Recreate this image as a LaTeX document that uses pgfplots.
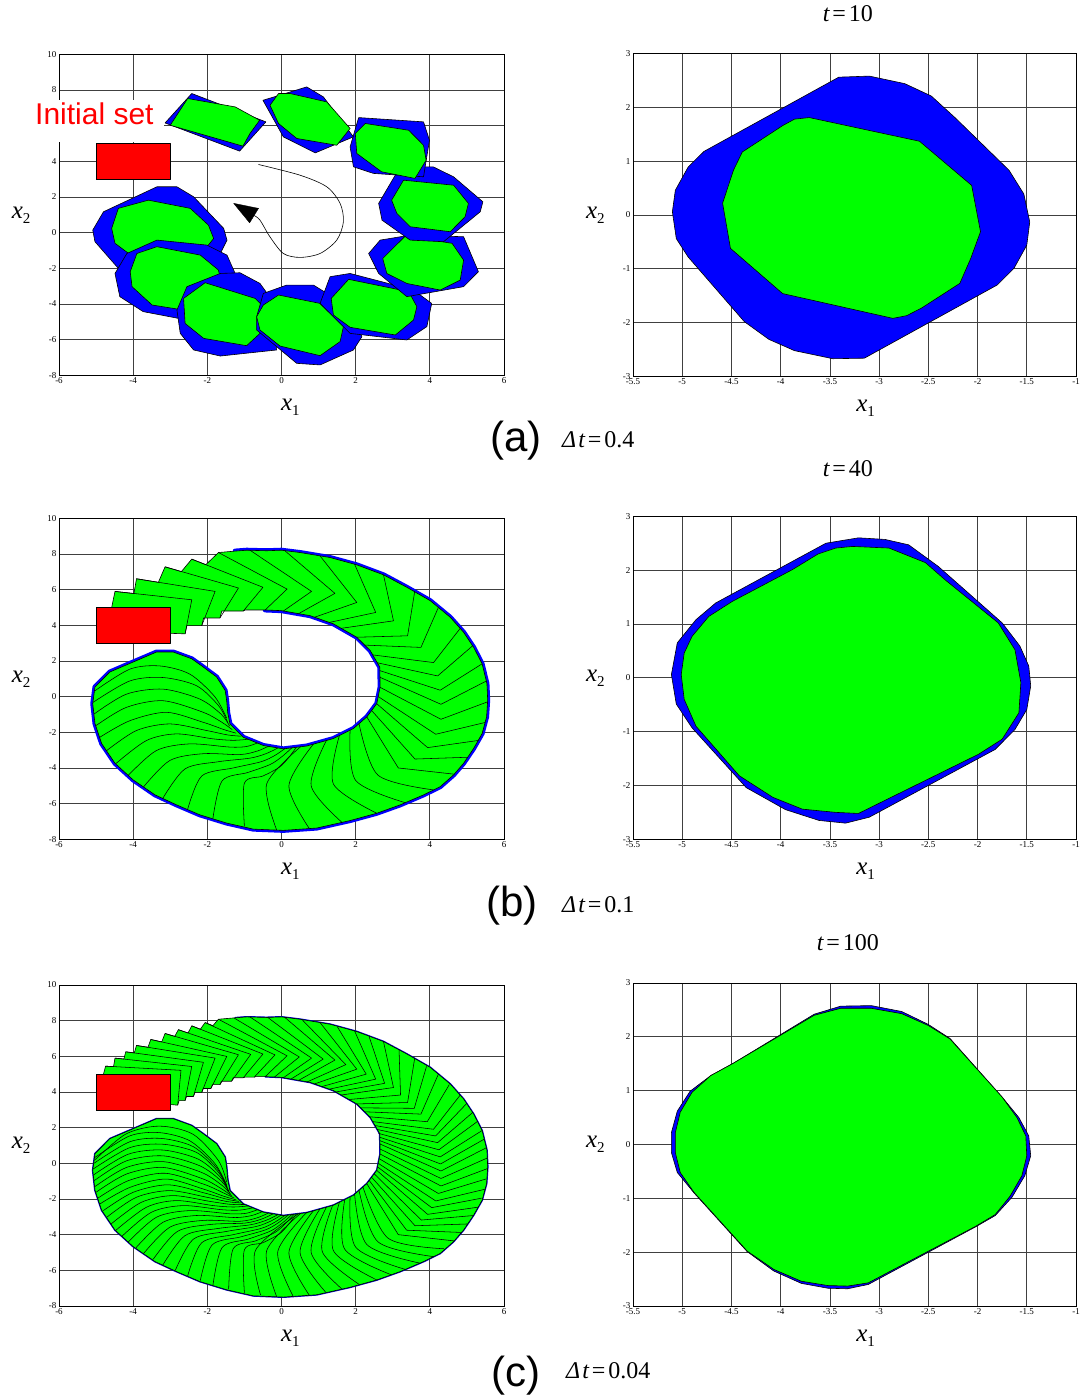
\documentclass[border=0pt]{standalone}
\usepackage{fontspec}
\setmainfont{Liberation Serif}
\newfontfamily\arial{Liberation Sans}
\usepackage{pgfplots}
\pgfplotsset{compat=1.18}
\newcommand{\lab}[2]{{\fontsize{25}{25}\selectfont\itshape #1}\raisebox{-5pt}{\fontsize{15}{15}\selectfont #2}}
\newcommand{\ttl}[1]{\fontsize{24}{24}\selectfont{\itshape t}\kern3pt=\kern3pt#1}
\newcommand{\dt}[1]{\fontsize{24}{24}\selectfont{\itshape Δ\kern2pt t}\kern3pt=\kern3pt#1}
\pgfplotsset{
  base/.style={scale only axis, anchor=south west, grid=major,
    major grid style={black!75, line width=0.7pt},
    axis line style={line width=0.8pt}, major tick length=0pt,
    /pgf/number format/assume math mode=true,
    ticklabel style={font=\fontsize{9}{9}\selectfont},
    xticklabel style={yshift=1pt}, yticklabel style={xshift=1pt},
    xlabel={\lab{x}{1}}, ylabel={\lab{x}{2}},
    xlabel style={at={(axis description cs:0.52,0)}, anchor=base, yshift=-35pt},
    ylabel style={rotate=-90, at={(axis description cs:-0.085,0.5)}, anchor=center}},
  leftax/.style={base, width=445pt, height=321pt, xmin=-6, xmax=6, ymin=-8, ymax=10,
    xtick={-6,-4,-2,0,2,4,6}, ytick={-8,-6,-4,-2,0,2,4,6,8,10}},
  rightax/.style={base, width=443pt, height=323pt, xmin=-5.5, xmax=-1, ymin=-3, ymax=3,
    xtick={-5.5,-5,-4.5,-4,-3.5,-3,-2.5,-2,-1.5,-1}, ytick={-3,-2,-1,0,1,2,3},
    xlabel style={at={(axis description cs:0.525,0)}},
    title style={at={(axis description cs:0.485,1)}, anchor=base}},
  poly/.style={draw=black, line width=0.6pt, line join=round, no markers},
  bl/.style={poly, fill=blue},
  gr/.style={poly, fill=green},
  ch/.style={black, line width=0.55pt, line join=round, no markers},
  chs/.style={ch, smooth},
}
\begin{document}
\begin{tikzpicture}
\useasboundingbox (0,0) rectangle (1086pt,1400pt);

%================ (a) left
\begin{axis}[leftax, at={(59pt,1024.7pt)}]
% set 10
\addplot[bl] coordinates {(-3.36,2.57) (-2.82,2.57) (-2.37,2.01) (-1.56,0.24) (-1.47,-0.42) (-1.65,-1.17) (-2.19,-1.35) (-3.45,-1.6) (-4.36,-2.10) (-5.03,-0.51) (-5.09,0.14) (-4.80,1.17) (-3.36,2.57)};
\addplot[gr] coordinates {(-3.59,1.82) (-2.46,1.36) (-1.97,0.42) (-1.83,-0.33) (-2.19,-1.26) (-3.0,-1.3) (-3.94,-1.45) (-4.49,-0.60) (-4.58,0.24) (-4.40,1.36) (-3.59,1.82)};
% set 9
\addplot[bl] coordinates {(-2.01,-0.70) (-1.47,-1.26) (-1.25,-2.29) (-1.29,-3.59) (-2.55,-4.90) (-3.73,-4.43) (-4.36,-3.59) (-4.49,-2.29) (-4.17,-1.17) (-3.36,-0.42) (-2.01,-0.70)};
\addplot[gr] coordinates {(-3.36,-0.79) (-2.19,-1.26) (-1.70,-2.10) (-1.61,-3.03) (-2.01,-4.06) (-2.64,-4.34) (-3.49,-4.06) (-4.03,-3.03) (-4.08,-2.19) (-3.90,-1.17) (-3.36,-0.79)};
% set 8
\addplot[bl] coordinates {(-1.65,-2.29) (-1.12,-2.25) (-0.58,-2.85) (-0.13,-4.15) (-0.13,-6.58) (-1.65,-6.92) (-2.37,-6.58) (-2.73,-5.65) (-2.82,-4.34) (-2.55,-3.03) (-1.65,-2.29)};
\addplot[gr] coordinates {(-2.06,-2.81) (-0.71,-3.69) (-0.49,-4.15) (-0.58,-5.65) (-0.94,-6.34) (-2.10,-5.93) (-2.60,-5.09) (-2.64,-3.69) (-2.06,-2.81)};
% set 7
\addplot[bl] coordinates {(-0.49,-3.41) (0.14,-2.94) (0.86,-2.94) (1.67,-3.97) (2.17,-5.83) (1.94,-6.58) (1.04,-7.42) (0.41,-7.33) (-0.67,-5.46) (-0.67,-4.71) (-0.49,-3.41)};
\addplot[gr] coordinates {(-0.08,-3.50) (1.04,-3.97) (1.67,-5.27) (1.58,-6.11) (1.04,-6.90) (-0.04,-6.36) (-0.58,-5.46) (-0.67,-4.71) (-0.49,-4.06) (-0.08,-3.50)};
% set 6
\addplot[bl] coordinates {(1.31,-2.47) (1.85,-2.29) (3.56,-3.22) (4.05,-3.97) (3.92,-5.27) (3.38,-6.02) (1.85,-5.65) (1.04,-3.97) (1.31,-2.47)};
\addplot[gr] coordinates {(1.81,-2.62) (3.43,-3.31) (3.65,-4.15) (3.56,-4.90) (3.07,-5.74) (1.85,-5.31) (1.40,-4.62) (1.34,-3.69) (1.81,-2.62)};
% set 5
\addplot[bl] coordinates {(2.66,-0.42) (3.47,-0.14) (4.91,-0.23) (5.31,-2.19) (4.91,-3.03) (3.38,-3.59) (2.62,-2.29) (2.35,-1.17) (2.66,-0.42)};
\addplot[gr] coordinates {(3.34,-0.19) (4.60,-0.60) (4.91,-1.54) (4.82,-2.66) (4.28,-3.22) (3.38,-2.85) (2.84,-2.29) (2.73,-1.45) (3.34,-0.19)};
% set 4
\addplot[bl] coordinates {(3.20,3.69) (4.09,3.69) (4.64,3.13) (5.43,1.73) (5.36,1.17) (4.37,-0.51) (3.47,-0.42) (2.71,0.70) (2.62,1.64) (3.20,3.69)};
\addplot[gr] coordinates {(3.29,2.94) (4.64,2.66) (5.04,1.64) (4.95,0.89) (4.55,0.05) (3.47,0.33) (3.11,1.08) (2.97,1.82) (3.29,2.94)};
% set 3
\addplot[bl] coordinates {(2.08,6.45) (3.83,6.21) (3.99,5.18) (3.83,3.13) (2.48,3.32) (1.94,3.69) (1.85,4.81) (2.08,6.45)};
\addplot[gr] coordinates {(2.26,6.12) (3.43,5.74) (3.83,4.90) (3.90,4.06) (3.60,3.04) (2.70,3.41) (2.03,4.44) (1.99,5.56) (2.26,6.12)};
% set 2
\addplot[bl] coordinates {(-0.50,7.42) (0.68,8.17) (1.13,7.61) (1.94,5.37) (0.91,4.47) (0.05,5.37) (-0.50,7.42)};
\addplot[gr] coordinates {(-0.08,7.80) (0.23,7.80) (1.22,7.33) (1.85,5.84) (1.49,4.90) (0.41,5.28) (-0.08,6.12) (-0.31,7.14) (-0.08,7.80)};
% set 1
\addplot[bl] coordinates {(-2.42,7.80) (-0.42,6.21) (-1.13,4.57) (-3.14,6.15) (-2.42,7.80)};
\addplot[gr] coordinates {(-2.53,7.52) (-1.25,7.05) (-0.59,6.30) (-0.85,5.56) (-1.04,4.85) (-3.0,6.02) (-2.53,7.52)};
% initial set
\addplot[poly, fill=red] coordinates {(-5,3) (-3,3) (-3,5) (-5,5) (-5,3)};
% arrow
\addplot[ch, smooth, line width=0.6pt] coordinates {(-0.62,3.82) (0.50,3.22) (1.22,2.57) (1.58,1.64) (1.67,0.61) (1.49,-0.42) (1.04,-1.17) (0.50,-1.39) (0.05,-1.17) (-0.31,-0.24) (-0.58,0.70) (-0.74,0.96)};
\addplot[fill=black, draw=black, no markers] coordinates {(-1.29,1.64) (-0.62,1.36) (-0.86,0.55) (-1.29,1.64)};
\end{axis}
\fill[white] (33pt,1258pt) rectangle (164pt,1300pt);
\node[anchor=base west, text=red, font=\arial\fontsize{30}{30}\selectfont, inner sep=0pt] at (35pt,1275pt) {Initial set};

%================ (a) right
\begin{axis}[rightax, at={(633pt,1023.5pt)}, title={\ttl{10}}, title style={yshift=26pt}]
\addplot[bl] coordinates {(-3.41,2.56) (-3.10,2.58) (-2.74,2.44) (-2.47,2.21) (-2.23,1.81) (-1.68,0.83) (-1.53,0.39) (-1.47,-0.13) (-1.50,-0.56) (-1.63,-0.99) (-1.80,-1.30) (-3.15,-2.66) (-3.47,-2.67) (-3.86,-2.52) (-4.12,-2.31) (-4.37,-1.98) (-4.94,-0.78) (-5.06,-0.44) (-5.10,0.06) (-5.07,0.46) (-4.94,0.89) (-4.78,1.18) (-3.41,2.56)};
\addplot[gr] coordinates {(-3.71,1.81) (-2.59,1.37) (-2.06,0.55) (-1.97,-0.31) (-2.07,-0.81) (-2.18,-1.27) (-2.57,-1.73) (-2.72,-1.87) (-2.86,-1.92) (-3.98,-1.46) (-4.51,-0.62) (-4.59,0.22) (-4.48,0.83) (-4.39,1.17) (-3.98,1.66) (-3.86,1.78) (-3.71,1.81)};
\end{axis}
\node[anchor=base, font=\arial\fontsize{42}{42}\selectfont, inner sep=0pt] at (516pt,948.3pt) {(a)};
\node[anchor=base west, inner sep=0pt] at (562pt,952.7pt) {\dt{0.4}};

%================ (b) left
\begin{axis}[leftax, at={(59pt,560.7pt)}]
\addplot[blue, line width=5pt, line join=round, line cap=round, no markers] coordinates {(-1.25,8.16) (-0.94,8.21) (-0.40,8.18) (0,8.21) (0.50,8.08) (1.31,7.80) (2.03,7.39) (2.75,6.83) (3.38,6.13) (4.01,5.38) (4.55,4.45) (4.91,3.61) (5.18,2.77) (5.41,1.84) (5.54,0.73) (5.56,-0.20) (5.53,-1.14) (5.41,-2.07) (5.18,-2.91) (4.91,-3.74) (4.64,-4.39) (4.28,-5.05) (3.83,-5.51) (3.20,-6.07) (2.57,-6.54) (1.85,-6.95) (0.95,-7.37) (0.05,-7.50) (-0.76,-7.43) (-1.48,-7.09) (-2.20,-6.63) (-2.83,-6.07) (-3.41,-5.51) (-4.00,-4.67) (-4.49,-3.74) (-4.85,-2.63) (-5.03,-1.51) (-5.09,-0.39) (-5.03,0.54) (-4.63,1.38) (-4.00,1.94) (-3.37,2.50) (-2.92,2.50) (-2.42,2.12) (-2.11,1.66) (-1.75,1.10) (-1.52,0.35) (-1.48,-0.20) (-1.45,-0.90) (-1.39,-1.53) (-1.03,-2.28) (-0.49,-2.74) (0.05,-2.93) (0.68,-2.77) (1.40,-2.35) (1.94,-1.79) (2.30,-1.14) (2.57,-0.39) (2.66,0.54) (2.65,1.66) (2.39,2.59) (2.03,3.33) (1.40,4.08) (0.77,4.54) (0,4.82) (-0.44,4.86)};
\addplot[gr] coordinates {(-4.58,5.0) (-4.49,5.90) (-3.98,5.78) (-3.91,6.61) (-3.32,6.41) (-3.14,7.28) (-2.70,7.01) (-2.42,7.71) (-2.04,7.40) (-1.70,8.08) (-1.25,8.16) (-0.94,8.21) (-0.40,8.18) (0,8.21) (0.50,8.08) (1.31,7.80) (2.03,7.39) (2.75,6.83) (3.38,6.13) (4.01,5.38) (4.55,4.45) (4.91,3.61) (5.18,2.77) (5.41,1.84) (5.54,0.73) (5.56,-0.20) (5.53,-1.14) (5.41,-2.07) (5.18,-2.91) (4.91,-3.74) (4.64,-4.39) (4.28,-5.05) (3.83,-5.51) (3.20,-6.07) (2.57,-6.54) (1.85,-6.95) (0.95,-7.37) (0.05,-7.50) (-0.76,-7.43) (-1.48,-7.09) (-2.20,-6.63) (-2.83,-6.07) (-3.41,-5.51) (-4.00,-4.67) (-4.49,-3.74) (-4.85,-2.63) (-5.03,-1.51) (-5.09,-0.39) (-5.03,0.54) (-4.63,1.38) (-4.00,1.94) (-3.37,2.50) (-2.92,2.50) (-2.42,2.12) (-2.11,1.66) (-1.75,1.10) (-1.52,0.35) (-1.48,-0.20) (-1.45,-0.90) (-1.39,-1.53) (-1.03,-2.28) (-0.49,-2.74) (0.05,-2.93) (0.68,-2.77) (1.40,-2.35) (1.94,-1.79) (2.30,-1.14) (2.57,-0.39) (2.66,0.54) (2.65,1.66) (2.39,2.59) (2.03,3.33) (1.40,4.08) (0.77,4.54) (0,4.82) (-0.44,4.86) (-0.98,4.86) (-1.03,4.80) (-1.61,4.80) (-1.66,4.41) (-2.10,4.41) (-2.15,3.98) (-2.55,3.98) (-2.60,3.52) (-3.0,3.55) (-3.5,4.0) (-4.58,5.0)};
\addplot[ch] coordinates {(-4.49,5.90) (-2.42,5.43) (-2.60,3.52)};
\addplot[ch] coordinates {(-3.91,6.61) (-1.79,5.90) (-2.15,3.98)};
\addplot[ch] coordinates {(-3.14,7.28) (-1.16,6.09) (-1.66,4.41)};
\addplot[ch] coordinates {(-2.42,7.71) (-0.50,6.13) (-1.03,4.80)};
\addplot[ch] coordinates {(-1.70,8.08) (0.15,6.03) (-0.44,4.86)};
\addplot[ch] coordinates {(-0.85,8.21) (0.81,5.90) (0.05,4.80)};
\addplot[ch] coordinates {(0.08,8.20) (1.44,5.79) (0.46,4.65)};
\addplot[ch] coordinates {(1.04,7.89) (2.03,5.28) (0.89,4.45)};
\addplot[ch] coordinates {(1.97,7.43) (2.54,4.72) (1.29,4.16)};
\addplot[ch] coordinates {(2.75,6.83) (3.02,4.25) (1.61,3.83)};
\addplot[ch] coordinates {(3.59,5.87) (3.40,3.41) (2.03,3.33)};
\addplot[ch] coordinates {(4.23,5.00) (3.76,2.76) (2.24,2.89)};
\addplot[ch] coordinates {(4.82,3.83) (4.10,1.91) (2.46,2.34)};
\addplot[ch] coordinates {(5.16,2.86) (4.21,1.16) (2.58,1.90)};
\addplot[ch] coordinates {(5.41,1.84) (4.28,0.36) (2.65,1.46)};
\addplot[ch] coordinates {(5.52,0.87) (4.30,-0.43) (2.66,1.08)};
\addplot[ch] coordinates {(5.56,-0.29) (4.30,-1.27) (2.66,0.52)};
\addplot[ch] coordinates {(5.49,-1.45) (4.16,-2.11) (2.61,0.00)};
\addplot[ch] coordinates {(5.30,-2.46) (3.94,-2.86) (2.57,-0.40)};
\addplot[ch] coordinates {(5.02,-3.40) (3.60,-3.50) (2.43,-0.78)};
\addplot[ch] coordinates {(4.66,-4.35) (3.15,-4.00) (2.30,-1.14)};
\addplot[chs] coordinates {(4.10,-5.23) (2.60,-4.40) (2.09,-1.51)};
\addplot[chs] coordinates {(3.34,-5.95) (2.00,-4.70) (1.85,-1.88)};
\addplot[chs] coordinates {(2.57,-6.54) (1.40,-4.90) (1.56,-2.19)};
\addplot[chs] coordinates {(1.63,-7.05) (0.80,-5.00) (1.21,-2.46)};
\addplot[chs] coordinates {(0.75,-7.40) (0.20,-5.00) (0.86,-2.66)};
\addplot[chs] coordinates {(-0.13,-7.48) (-0.40,-4.90) (0.52,-2.80)};
\addplot[chs] coordinates {(-1.0,-7.28) (-1.00,-4.85) (-0.50,-4.45) (-0.05,-3.95) (0.20,-3.40) (0.40,-2.84)};
\addplot[chs] coordinates {(-1.85,-6.84) (-1.60,-4.72) (-0.90,-4.25) (-0.30,-3.80) (0.02,-3.35) (0.28,-2.87)};
\addplot[chs] coordinates {(-2.53,-6.31) (-2.15,-4.45) (-1.30,-4.00) (-0.55,-3.65) (-0.18,-3.30) (0.10,-2.90)};
\addplot[chs] coordinates {(-3.20,-5.70) (-2.60,-4.05) (-1.70,-3.65) (-0.85,-3.45) (-0.42,-3.20) (-0.10,-2.88)};
\addplot[chs] coordinates {(-3.72,-5.06) (-3.01,-3.58) (-2.11,-3.20) (-1.12,-3.25) (-0.65,-3.05) (-0.35,-2.78)};
\addplot[chs] coordinates {(-4.13,-4.41) (-3.37,-3.02) (-2.47,-2.65) (-1.39,-2.83) (-0.95,-2.80) (-0.65,-2.60)};
\addplot[chs] coordinates {(-4.47,-3.76) (-3.64,-2.46) (-2.83,-2.09) (-1.84,-2.37) (-1.30,-2.45) (-0.90,-2.39)};
\addplot[chs] coordinates {(-4.71,-3.02) (-3.91,-1.90) (-3.01,-1.53) (-2.02,-1.90) (-1.45,-2.15) (-1.08,-2.22)};
\addplot[chs] coordinates {(-4.90,-2.28) (-4.09,-1.35) (-3.10,-0.88) (-2.11,-1.44) (-1.55,-1.85) (-1.22,-2.05)};
\addplot[chs] coordinates {(-5.0,-1.62) (-4.18,-0.60) (-3.19,-0.23) (-2.11,-0.88) (-1.60,-1.45) (-1.33,-1.85)};
\addplot[chs] coordinates {(-5.05,-0.97) (-4.18,0.14) (-3.19,0.42) (-2.20,-0.14) (-1.62,-1.00) (-1.40,-1.65)};
\addplot[chs] coordinates {(-5.08,-0.32) (-4.09,0.88) (-3.19,1.07) (-2.29,0.61) (-1.70,-0.50) (-1.45,-1.45)};
\addplot[chs] coordinates {(-5.03,0.33) (-4.09,1.54) (-3.28,1.72) (-2.47,1.26) (-1.80,0.00) (-1.48,-1.20)};
\addplot[poly, fill=red] coordinates {(-5,3) (-3,3) (-3,5) (-5,5) (-5,3)};
\end{axis}

%================ (b) right
\begin{axis}[rightax, at={(633pt,560.7pt)}, title={\ttl{40}}, title style={yshift=34pt}]
\addplot[bl] coordinates {(-3.54,2.50) (-3.21,2.60) (-2.94,2.57) (-2.70,2.47) (-2.40,2.07) (-1.75,1.02) (-1.57,0.59) (-1.48,0.22) (-1.46,-0.15) (-1.50,-0.59) (-1.62,-0.96) (-1.82,-1.33) (-3.10,-2.59) (-3.34,-2.70) (-3.61,-2.65) (-3.95,-2.45) (-4.35,-2.04) (-4.90,-0.93) (-5.06,-0.49) (-5.11,0.06) (-5.05,0.65) (-4.86,1.08) (-4.66,1.39) (-3.54,2.50)};
\addplot[gr] coordinates {(-3.44,2.41) (-3.27,2.44) (-2.90,2.41) (-2.53,2.14) (-2.33,1.82) (-1.79,1.02) (-1.62,0.52) (-1.56,-0.09) (-1.58,-0.65) (-1.75,-1.14) (-1.99,-1.42) (-3.21,-2.52) (-3.44,-2.50) (-3.78,-2.44) (-4.08,-2.22) (-4.42,-1.82) (-4.86,-0.90) (-4.98,-0.40) (-5.01,0.06) (-4.98,0.46) (-4.90,0.77) (-4.73,1.14) (-4.49,1.42) (-3.88,2.01) (-3.62,2.30) (-3.44,2.41)};
\end{axis}
\node[anchor=base, font=\arial\fontsize{42}{42}\selectfont, inner sep=0pt] at (512pt,483.3pt) {(b)};
\node[anchor=base west, inner sep=0pt] at (562pt,487.3pt) {\dt{0.1}};

%================ (c) left
\begin{axis}[leftax, at={(59pt,94pt)}]
\addplot[blue!80!black, line width=1.8pt, line join=round, line cap=round, no markers] coordinates {(-1.25,8.16) (-0.94,8.21) (-0.40,8.18) (0,8.21) (0.50,8.08) (1.31,7.80) (2.03,7.39) (2.75,6.83) (3.38,6.13) (4.01,5.38) (4.55,4.45) (4.91,3.61) (5.18,2.77) (5.41,1.84) (5.54,0.73) (5.56,-0.20) (5.53,-1.14) (5.41,-2.07) (5.18,-2.91) (4.91,-3.74) (4.64,-4.39) (4.28,-5.05) (3.83,-5.51) (3.20,-6.07) (2.57,-6.54) (1.85,-6.95) (0.95,-7.37) (0.05,-7.50) (-0.76,-7.43) (-1.48,-7.09) (-2.20,-6.63) (-2.83,-6.07) (-3.41,-5.51) (-4.00,-4.67) (-4.49,-3.74) (-4.85,-2.63) (-5.03,-1.51) (-5.09,-0.39) (-5.03,0.54) (-4.63,1.38) (-4.00,1.94) (-3.37,2.50) (-2.92,2.50) (-2.42,2.12) (-2.11,1.66) (-1.75,1.10) (-1.52,0.35) (-1.48,-0.20) (-1.45,-0.90) (-1.39,-1.53) (-1.03,-2.28) (-0.49,-2.74) (0.05,-2.93) (0.68,-2.77) (1.40,-2.35) (1.94,-1.79) (2.30,-1.14) (2.57,-0.39) (2.66,0.54) (2.65,1.66) (2.39,2.59) (2.03,3.33) (1.40,4.08) (0.77,4.54) (0,4.82) (-0.44,4.86)};
\addplot[gr] coordinates {(-4.80,5.0) (-4.745,5.45) (-4.53,5.42) (-4.49,5.90) (-4.25,5.85) (-4.20,6.255) (-3.97,6.19) (-3.91,6.61) (-3.60,6.51) (-3.525,6.945) (-3.23,6.81) (-3.14,7.28) (-2.88,7.12) (-2.78,7.495) (-2.52,7.31) (-2.42,7.71) (-2.19,7.52) (-2.06,7.895) (-1.85,7.72) (-1.70,8.08) (-1.25,8.16) (-0.94,8.21) (-0.40,8.18) (0,8.21) (0.50,8.08) (1.31,7.80) (2.03,7.39) (2.75,6.83) (3.38,6.13) (4.01,5.38) (4.55,4.45) (4.91,3.61) (5.18,2.77) (5.41,1.84) (5.54,0.73) (5.56,-0.20) (5.53,-1.14) (5.41,-2.07) (5.18,-2.91) (4.91,-3.74) (4.64,-4.39) (4.28,-5.05) (3.83,-5.51) (3.20,-6.07) (2.57,-6.54) (1.85,-6.95) (0.95,-7.37) (0.05,-7.50) (-0.76,-7.43) (-1.48,-7.09) (-2.20,-6.63) (-2.83,-6.07) (-3.41,-5.51) (-4.00,-4.67) (-4.49,-3.74) (-4.85,-2.63) (-5.03,-1.51) (-5.09,-0.39) (-5.03,0.54) (-4.63,1.38) (-4.00,1.94) (-3.37,2.50) (-2.92,2.50) (-2.42,2.12) (-2.11,1.66) (-1.75,1.10) (-1.52,0.35) (-1.48,-0.20) (-1.45,-0.90) (-1.39,-1.53) (-1.03,-2.28) (-0.49,-2.74) (0.05,-2.93) (0.68,-2.77) (1.40,-2.35) (1.94,-1.79) (2.30,-1.14) (2.57,-0.39) (2.66,0.54) (2.65,1.66) (2.39,2.59) (2.03,3.33) (1.40,4.08) (0.77,4.54) (0,4.82) (-0.44,4.86) (-0.70,4.86) (-0.735,4.83) (-0.99,4.83) (-1.03,4.80) (-1.30,4.80) (-1.345,4.605) (-1.62,4.605) (-1.66,4.41) (-1.86,4.41) (-1.905,4.195) (-2.11,4.195) (-2.15,3.98) (-2.33,3.98) (-2.375,3.75) (-2.56,3.75) (-2.60,3.52) (-2.76,3.52) (-2.80,3.26) (-3.0,3.30) (-3.5,4.0) (-4.80,5.0)};
\addplot[ch] coordinates {(-4.745,5.45) (-2.71,5.215) (-2.80,3.26)};
\addplot[ch] coordinates {(-4.49,5.90) (-2.42,5.43) (-2.60,3.52)};
\addplot[ch] coordinates {(-4.20,6.255) (-2.105,5.665) (-2.375,3.75)};
\addplot[ch] coordinates {(-3.91,6.61) (-1.79,5.90) (-2.15,3.98)};
\addplot[ch] coordinates {(-3.525,6.945) (-1.475,5.995) (-1.905,4.195)};
\addplot[ch] coordinates {(-3.14,7.28) (-1.16,6.09) (-1.66,4.41)};
\addplot[ch] coordinates {(-2.78,7.495) (-0.83,6.11) (-1.345,4.605)};
\addplot[ch] coordinates {(-2.42,7.71) (-0.50,6.13) (-1.03,4.80)};
\addplot[ch] coordinates {(-2.06,7.895) (-0.175,6.08) (-0.735,4.83)};
\addplot[ch] coordinates {(-1.70,8.08) (0.15,6.03) (-0.44,4.86)};
\addplot[ch] coordinates {(-1.275,8.145) (0.48,5.965) (-0.195,4.83)};
\addplot[ch] coordinates {(-0.85,8.21) (0.81,5.90) (0.05,4.80)};
\addplot[ch] coordinates {(-0.385,8.205) (1.125,5.845) (0.255,4.725)};
\addplot[ch] coordinates {(0.08,8.20) (1.44,5.79) (0.46,4.65)};
\addplot[ch] coordinates {(0.56,8.045) (1.735,5.535) (0.675,4.55)};
\addplot[ch] coordinates {(1.04,7.89) (2.03,5.28) (0.89,4.45)};
\addplot[ch] coordinates {(1.505,7.66) (2.285,5.0) (1.09,4.305)};
\addplot[ch] coordinates {(1.97,7.43) (2.54,4.72) (1.29,4.16)};
\addplot[ch] coordinates {(2.36,7.13) (2.78,4.485) (1.45,3.995)};
\addplot[ch] coordinates {(2.75,6.83) (3.02,4.25) (1.61,3.83)};
\addplot[ch] coordinates {(3.17,6.35) (3.21,3.83) (1.82,3.58)};
\addplot[ch] coordinates {(3.59,5.87) (3.40,3.41) (2.03,3.33)};
\addplot[ch] coordinates {(3.91,5.435) (3.58,3.085) (2.135,3.11)};
\addplot[ch] coordinates {(4.23,5.00) (3.76,2.76) (2.24,2.89)};
\addplot[ch] coordinates {(4.525,4.415) (3.93,2.335) (2.35,2.615)};
\addplot[ch] coordinates {(4.82,3.83) (4.10,1.91) (2.46,2.34)};
\addplot[ch] coordinates {(4.99,3.345) (4.155,1.535) (2.52,2.12)};
\addplot[ch] coordinates {(5.16,2.86) (4.21,1.16) (2.58,1.90)};
\addplot[ch] coordinates {(5.285,2.35) (4.245,0.76) (2.615,1.68)};
\addplot[ch] coordinates {(5.41,1.84) (4.28,0.36) (2.65,1.46)};
\addplot[ch] coordinates {(5.465,1.355) (4.29,-0.035) (2.655,1.27)};
\addplot[ch] coordinates {(5.52,0.87) (4.30,-0.43) (2.66,1.08)};
\addplot[ch] coordinates {(5.54,0.29) (4.30,-0.85) (2.66,0.80)};
\addplot[ch] coordinates {(5.56,-0.29) (4.30,-1.27) (2.66,0.52)};
\addplot[ch] coordinates {(5.525,-0.87) (4.23,-1.69) (2.635,0.26)};
\addplot[ch] coordinates {(5.49,-1.45) (4.16,-2.11) (2.61,0.00)};
\addplot[ch] coordinates {(5.395,-1.955) (4.05,-2.485) (2.59,-0.20)};
\addplot[ch] coordinates {(5.30,-2.46) (3.94,-2.86) (2.57,-0.40)};
\addplot[ch] coordinates {(5.16,-2.93) (3.77,-3.18) (2.50,-0.59)};
\addplot[ch] coordinates {(5.02,-3.40) (3.60,-3.50) (2.43,-0.78)};
\addplot[ch] coordinates {(4.84,-3.875) (3.375,-3.75) (2.365,-0.96)};
\addplot[ch] coordinates {(4.66,-4.35) (3.15,-4.00) (2.30,-1.14)};
\addplot[chs] coordinates {(4.38,-4.79) (2.875,-4.20) (2.195,-1.325)};
\addplot[chs] coordinates {(4.10,-5.23) (2.60,-4.40) (2.09,-1.51)};
\addplot[chs] coordinates {(3.72,-5.59) (2.30,-4.55) (1.97,-1.695)};
\addplot[chs] coordinates {(3.34,-5.95) (2.00,-4.70) (1.85,-1.88)};
\addplot[chs] coordinates {(2.955,-6.245) (1.70,-4.80) (1.705,-2.035)};
\addplot[chs] coordinates {(2.57,-6.54) (1.40,-4.90) (1.56,-2.19)};
\addplot[chs] coordinates {(2.10,-6.795) (1.10,-4.95) (1.385,-2.325)};
\addplot[chs] coordinates {(1.63,-7.05) (0.80,-5.00) (1.21,-2.46)};
\addplot[chs] coordinates {(1.19,-7.225) (0.50,-5.00) (1.035,-2.56)};
\addplot[chs] coordinates {(0.75,-7.40) (0.20,-5.00) (0.86,-2.66)};
\addplot[chs] coordinates {(0.31,-7.44) (-0.10,-4.95) (0.69,-2.73)};
\addplot[chs] coordinates {(-0.13,-7.48) (-0.40,-4.90) (0.52,-2.80)};
\addplot[chs] coordinates {(-0.565,-7.38) (-0.70,-4.875) (0.46,-2.82)};
\addplot[chs] coordinates {(-1.0,-7.28) (-1.00,-4.85) (-0.50,-4.45) (-0.05,-3.95) (0.20,-3.40) (0.40,-2.84)};
\addplot[chs] coordinates {(-1.425,-7.06) (-1.30,-4.785) (-0.70,-4.35) (-0.175,-3.875) (0.11,-3.375) (0.34,-2.855)};
\addplot[chs] coordinates {(-1.85,-6.84) (-1.60,-4.72) (-0.90,-4.25) (-0.30,-3.80) (0.02,-3.35) (0.28,-2.87)};
\addplot[chs] coordinates {(-2.19,-6.575) (-1.875,-4.585) (-1.10,-4.125) (-0.425,-3.725) (-0.08,-3.325) (0.19,-2.885)};
\addplot[chs] coordinates {(-2.53,-6.31) (-2.15,-4.45) (-1.30,-4.00) (-0.55,-3.65) (-0.18,-3.30) (0.10,-2.90)};
\addplot[chs] coordinates {(-2.865,-6.005) (-2.375,-4.25) (-1.50,-3.825) (-0.70,-3.55) (-0.30,-3.25) (0.0,-2.89)};
\addplot[chs] coordinates {(-3.20,-5.70) (-2.60,-4.05) (-1.70,-3.65) (-0.85,-3.45) (-0.42,-3.20) (-0.10,-2.88)};
\addplot[chs] coordinates {(-3.46,-5.38) (-2.805,-3.815) (-1.905,-3.425) (-0.985,-3.35) (-0.535,-3.125) (-0.225,-2.83)};
\addplot[chs] coordinates {(-3.72,-5.06) (-3.01,-3.58) (-2.11,-3.20) (-1.12,-3.25) (-0.65,-3.05) (-0.35,-2.78)};
\addplot[chs] coordinates {(-3.925,-4.735) (-3.19,-3.30) (-2.29,-2.925) (-1.255,-3.04) (-0.80,-2.925) (-0.50,-2.69)};
\addplot[chs] coordinates {(-4.13,-4.41) (-3.37,-3.02) (-2.47,-2.65) (-1.39,-2.83) (-0.95,-2.80) (-0.65,-2.60)};
\addplot[chs] coordinates {(-4.30,-4.085) (-3.505,-2.74) (-2.65,-2.37) (-1.615,-2.60) (-1.125,-2.625) (-0.775,-2.495)};
\addplot[chs] coordinates {(-4.47,-3.76) (-3.64,-2.46) (-2.83,-2.09) (-1.84,-2.37) (-1.30,-2.45) (-0.90,-2.39)};
\addplot[chs] coordinates {(-4.59,-3.39) (-3.775,-2.18) (-2.92,-1.81) (-1.93,-2.135) (-1.375,-2.30) (-0.99,-2.305)};
\addplot[chs] coordinates {(-4.71,-3.02) (-3.91,-1.90) (-3.01,-1.53) (-2.02,-1.90) (-1.45,-2.15) (-1.08,-2.22)};
\addplot[chs] coordinates {(-4.805,-2.65) (-4.0,-1.625) (-3.055,-1.205) (-2.065,-1.67) (-1.50,-2.0) (-1.15,-2.135)};
\addplot[chs] coordinates {(-4.90,-2.28) (-4.09,-1.35) (-3.10,-0.88) (-2.11,-1.44) (-1.55,-1.85) (-1.22,-2.05)};
\addplot[chs] coordinates {(-4.95,-1.95) (-4.135,-0.975) (-3.145,-0.555) (-2.11,-1.16) (-1.575,-1.65) (-1.275,-1.95)};
\addplot[chs] coordinates {(-5.0,-1.62) (-4.18,-0.60) (-3.19,-0.23) (-2.11,-0.88) (-1.60,-1.45) (-1.33,-1.85)};
\addplot[chs] coordinates {(-5.025,-1.295) (-4.18,-0.23) (-3.19,0.095) (-2.155,-0.51) (-1.61,-1.225) (-1.365,-1.75)};
\addplot[chs] coordinates {(-5.05,-0.97) (-4.18,0.14) (-3.19,0.42) (-2.20,-0.14) (-1.62,-1.00) (-1.40,-1.65)};
\addplot[chs] coordinates {(-5.065,-0.645) (-4.135,0.51) (-3.19,0.745) (-2.245,0.235) (-1.66,-0.75) (-1.425,-1.55)};
\addplot[chs] coordinates {(-5.08,-0.32) (-4.09,0.88) (-3.19,1.07) (-2.29,0.61) (-1.70,-0.50) (-1.45,-1.45)};
\addplot[chs] coordinates {(-5.055,0.005) (-4.09,1.21) (-3.235,1.395) (-2.38,0.935) (-1.75,-0.25) (-1.465,-1.325)};
\addplot[chs] coordinates {(-5.03,0.33) (-4.09,1.54) (-3.28,1.72) (-2.47,1.26) (-1.80,0.00) (-1.48,-1.20)};
\addplot[chs] coordinates {(-5.045,0.165) (-4.195,1.645) (-3.29,2.085) (-2.385,1.63) (-1.70,0.15) (-1.48,-1.05)};
\addplot[poly, fill=red] coordinates {(-5,3) (-3,3) (-3,5) (-5,5) (-5,3)};
\end{axis}

%================ (c) right
\begin{axis}[rightax, at={(633pt,94pt)}, title={\ttl{100}}, title style={yshift=26pt}]
\addplot[bl] coordinates {(-3.66,2.42) (-3.39,2.57) (-3.08,2.58) (-2.77,2.47) (-2.50,2.23) (-2.28,1.97) (-1.75,0.88) (-1.58,0.50) (-1.48,0.16) (-1.46,-0.21) (-1.52,-0.58) (-1.65,-0.98) (-1.82,-1.32) (-2.02,-1.53) (-3.11,-2.60) (-3.32,-2.68) (-3.52,-2.67) (-3.79,-2.58) (-4.07,-2.35) (-4.34,-1.99) (-4.88,-0.90) (-5.05,-0.52) (-5.11,-0.15) (-5.11,0.22) (-5.05,0.62) (-4.92,0.99) (-4.71,1.28) (-4.48,1.51) (-3.66,2.42)};
\addplot[gr] coordinates {(-3.66,2.40) (-3.39,2.53) (-3.08,2.53) (-2.77,2.43) (-2.50,2.21) (-2.28,1.96) (-1.75,0.88) (-1.60,0.50) (-1.51,0.16) (-1.50,-0.21) (-1.55,-0.58) (-1.67,-0.96) (-1.82,-1.30) (-2.02,-1.52) (-3.11,-2.57) (-3.32,-2.63) (-3.52,-2.62) (-3.79,-2.54) (-4.07,-2.32) (-4.34,-1.98) (-4.88,-0.89) (-5.02,-0.52) (-5.07,-0.15) (-5.07,0.22) (-5.02,0.60) (-4.90,0.97) (-4.71,1.28) (-4.48,1.51) (-3.66,2.40)};
\end{axis}
\node[anchor=base, font=\arial\fontsize{42}{42}\selectfont, inner sep=0pt] at (516pt,13.3pt) {(c)};
\node[anchor=base west, inner sep=0pt] at (566pt,21.7pt) {\dt{0.04}};
\end{tikzpicture}
\end{document}
